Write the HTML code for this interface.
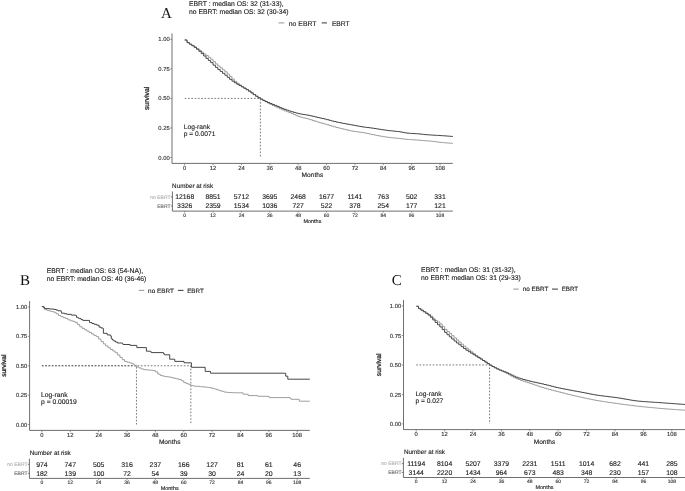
<!DOCTYPE html>
<html><head><meta charset="utf-8"><title>Kaplan-Meier survival curves</title>
<style>
html,body{margin:0;padding:0;background:#fff;}
body{width:685px;height:491px;overflow:hidden;font-family:"Liberation Sans", sans-serif;}
svg{display:block;filter:blur(0.3px);}
text{text-rendering:geometricPrecision;}
</style></head>
<body>
<svg width="685" height="491" viewBox="0 0 685 491">
<rect width="685" height="491" fill="#fff"/>
<text x="161.1" y="17.7" font-size="15.0" fill="#111" font-family='"Liberation Serif", serif'>A</text>
<text x="189.00" y="5.60" font-size="6.8" fill="#1a1a1a" stroke="#1a1a1a" stroke-width="0.12" text-anchor="start" font-family='"Liberation Sans", sans-serif' >EBRT : median OS: 32 (31-33),</text>
<text x="189.00" y="13.50" font-size="6.8" fill="#1a1a1a" stroke="#1a1a1a" stroke-width="0.12" text-anchor="start" font-family='"Liberation Sans", sans-serif' >no EBRT: median OS: 32 (30-34)</text>
<line x1="278.5" y1="22.9" x2="284.3" y2="22.9" stroke="#9e9e9e" stroke-width="1.1"/>
<line x1="321.7" y1="22.9" x2="327.0" y2="22.9" stroke="#474747" stroke-width="1.1"/>
<text x="288.80" y="25.60" font-size="6.85" fill="#1a1a1a" stroke="#1a1a1a" stroke-width="0.12" text-anchor="start" font-family='"Liberation Sans", sans-serif' textLength="27.7" lengthAdjust="spacingAndGlyphs">no EBRT</text>
<text x="331.90" y="25.60" font-size="6.85" fill="#1a1a1a" stroke="#1a1a1a" stroke-width="0.12" text-anchor="start" font-family='"Liberation Sans", sans-serif' textLength="17.8" lengthAdjust="spacingAndGlyphs">EBRT</text>
<path d="M172.0,33.4V163.4H452.8" fill="none" stroke="#555555" stroke-width="0.85"/>
<line x1="170.20" y1="157.50" x2="172.0" y2="157.50" stroke="#6a6a6a" stroke-width="0.7"/>
<text x="169.70" y="159.59" font-size="5.85" fill="#2e2e2e" stroke="#2e2e2e" stroke-width="0.12" text-anchor="end" font-family='"Liberation Sans", sans-serif' >0.00</text>
<line x1="170.20" y1="127.95" x2="172.0" y2="127.95" stroke="#6a6a6a" stroke-width="0.7"/>
<text x="169.70" y="130.04" font-size="5.85" fill="#2e2e2e" stroke="#2e2e2e" stroke-width="0.12" text-anchor="end" font-family='"Liberation Sans", sans-serif' >0.25</text>
<line x1="170.20" y1="98.40" x2="172.0" y2="98.40" stroke="#6a6a6a" stroke-width="0.7"/>
<text x="169.70" y="100.49" font-size="5.85" fill="#2e2e2e" stroke="#2e2e2e" stroke-width="0.12" text-anchor="end" font-family='"Liberation Sans", sans-serif' >0.50</text>
<line x1="170.20" y1="68.85" x2="172.0" y2="68.85" stroke="#6a6a6a" stroke-width="0.7"/>
<text x="169.70" y="70.94" font-size="5.85" fill="#2e2e2e" stroke="#2e2e2e" stroke-width="0.12" text-anchor="end" font-family='"Liberation Sans", sans-serif' >0.75</text>
<line x1="170.20" y1="39.30" x2="172.0" y2="39.30" stroke="#6a6a6a" stroke-width="0.7"/>
<text x="169.70" y="41.39" font-size="5.85" fill="#2e2e2e" stroke="#2e2e2e" stroke-width="0.12" text-anchor="end" font-family='"Liberation Sans", sans-serif' >1.00</text>
<line x1="184.70" y1="163.4" x2="184.70" y2="165.20" stroke="#6a6a6a" stroke-width="0.7"/>
<text x="184.70" y="169.69" font-size="5.85" fill="#2e2e2e" stroke="#2e2e2e" stroke-width="0.12" text-anchor="middle" font-family='"Liberation Sans", sans-serif' >0</text>
<line x1="213.07" y1="163.4" x2="213.07" y2="165.20" stroke="#6a6a6a" stroke-width="0.7"/>
<text x="213.07" y="169.69" font-size="5.85" fill="#2e2e2e" stroke="#2e2e2e" stroke-width="0.12" text-anchor="middle" font-family='"Liberation Sans", sans-serif' >12</text>
<line x1="241.44" y1="163.4" x2="241.44" y2="165.20" stroke="#6a6a6a" stroke-width="0.7"/>
<text x="241.44" y="169.69" font-size="5.85" fill="#2e2e2e" stroke="#2e2e2e" stroke-width="0.12" text-anchor="middle" font-family='"Liberation Sans", sans-serif' >24</text>
<line x1="269.80" y1="163.4" x2="269.80" y2="165.20" stroke="#6a6a6a" stroke-width="0.7"/>
<text x="269.80" y="169.69" font-size="5.85" fill="#2e2e2e" stroke="#2e2e2e" stroke-width="0.12" text-anchor="middle" font-family='"Liberation Sans", sans-serif' >36</text>
<line x1="298.17" y1="163.4" x2="298.17" y2="165.20" stroke="#6a6a6a" stroke-width="0.7"/>
<text x="298.17" y="169.69" font-size="5.85" fill="#2e2e2e" stroke="#2e2e2e" stroke-width="0.12" text-anchor="middle" font-family='"Liberation Sans", sans-serif' >48</text>
<line x1="326.54" y1="163.4" x2="326.54" y2="165.20" stroke="#6a6a6a" stroke-width="0.7"/>
<text x="326.54" y="169.69" font-size="5.85" fill="#2e2e2e" stroke="#2e2e2e" stroke-width="0.12" text-anchor="middle" font-family='"Liberation Sans", sans-serif' >60</text>
<line x1="354.91" y1="163.4" x2="354.91" y2="165.20" stroke="#6a6a6a" stroke-width="0.7"/>
<text x="354.91" y="169.69" font-size="5.85" fill="#2e2e2e" stroke="#2e2e2e" stroke-width="0.12" text-anchor="middle" font-family='"Liberation Sans", sans-serif' >72</text>
<line x1="383.28" y1="163.4" x2="383.28" y2="165.20" stroke="#6a6a6a" stroke-width="0.7"/>
<text x="383.28" y="169.69" font-size="5.85" fill="#2e2e2e" stroke="#2e2e2e" stroke-width="0.12" text-anchor="middle" font-family='"Liberation Sans", sans-serif' >84</text>
<line x1="411.64" y1="163.4" x2="411.64" y2="165.20" stroke="#6a6a6a" stroke-width="0.7"/>
<text x="411.64" y="169.69" font-size="5.85" fill="#2e2e2e" stroke="#2e2e2e" stroke-width="0.12" text-anchor="middle" font-family='"Liberation Sans", sans-serif' >96</text>
<line x1="440.01" y1="163.4" x2="440.01" y2="165.20" stroke="#6a6a6a" stroke-width="0.7"/>
<text x="440.01" y="169.69" font-size="5.85" fill="#2e2e2e" stroke="#2e2e2e" stroke-width="0.12" text-anchor="middle" font-family='"Liberation Sans", sans-serif' >108</text>
<text x="312.40" y="176.86" font-size="6.6" fill="#1a1a1a" stroke="#1a1a1a" stroke-width="0.12" text-anchor="middle" font-family='"Liberation Sans", sans-serif' >Months</text>
<text x="0" y="0" font-size="6.9" fill="#1a1a1a" stroke="#1a1a1a" stroke-width="0.25" text-anchor="middle" font-family='"Liberation Sans", sans-serif' transform="translate(148.6,98.4) rotate(-90)">survival</text>
<path d="M184.70,98.40H260.35V157.50" fill="none" stroke="#5a5a5a" stroke-width="0.8" stroke-dasharray="1.7,1.6"/>
<text x="183.80" y="129.00" font-size="6.65" fill="#1a1a1a" stroke="#1a1a1a" stroke-width="0.12" text-anchor="start" font-family='"Liberation Sans", sans-serif' >Log-rank</text>
<text x="183.80" y="136.20" font-size="6.65" fill="#1a1a1a" stroke="#1a1a1a" stroke-width="0.12" text-anchor="start" font-family='"Liberation Sans", sans-serif' >p = 0.0071</text>
<path d="M184.60,40.00H187.06V42.64H189.43V44.18H191.79V45.54H194.16V46.95H196.52V48.58H198.88V50.30H201.25V52.11H203.61V53.93H205.98V55.55H208.34V57.30H210.70V59.27H213.07V61.64H215.43V63.90H217.80V65.97H220.16V67.91H222.52V69.77H224.89V71.82H227.25V74.06H229.62V76.43H231.98V79.04H234.34V81.38H236.71V83.32H239.07V85.04H241.44V86.56H243.80V88.00H246.16V89.45H248.53V90.93H250.89V92.65H253.26V94.51H255.62V96.19H257.98V97.75H260.35V99.19H262.71V100.53H265.08V101.82H267.44V103.08H269.80V104.30H272.17V105.47H274.53V106.60H276.90V107.70H279.26V108.78H281.62V109.81H283.99V110.79H286.35V111.69H288.72V112.58H291.08V113.52H293.44V114.58H295.81V115.65H298.17V116.59H300.54V117.29H302.90V117.86H305.26V118.40H307.63V119.00H309.99V119.72H312.36V120.51H314.72V121.30H317.08V122.03H319.45V122.71H321.81V123.37H324.18V124.03H326.54V124.72H328.90V125.45H331.27V126.17H333.63V126.85H336.00V127.48H338.36V128.07H340.72V128.65H343.09V129.21H345.45V129.79H347.82V130.35H350.18V130.87H352.54V131.29H354.91V131.63H357.27V131.94H359.64V132.25H362.00V132.60H364.36V133.02H366.73V133.52H369.09V134.03H371.46V134.53H373.82V135.00H376.18V135.48H378.55V135.92H380.91V136.33H383.28V136.72H385.64V137.07H388.00V137.40H390.37V137.68H392.73V137.92H395.10V138.15H397.46V138.38H399.82V138.66H402.19V138.95H404.55V139.22H406.92V139.44H409.28V139.60H411.64V139.73H414.01V139.86H416.37V140.02H418.74V140.24H421.10V140.48H423.46V140.70H425.83V140.87H428.19V141.01H430.56V141.19H432.92V141.46H435.28V141.82H437.65V142.16H440.01V142.42H442.38V142.65H444.74V142.86H447.10V143.03H449.47V143.18H451.83V143.30H452.80" fill="none" stroke="#9e9e9e" stroke-width="1.0" stroke-linejoin="miter"/>
<path d="M184.60,40.00H187.06V42.59H189.43V44.21H191.79V45.74H194.16V47.38H196.52V49.24H198.88V51.28H201.25V53.56H203.61V55.99H205.98V58.37H208.34V60.55H210.70V62.62H213.07V65.13H215.43V67.42H217.80V69.47H220.16V71.42H222.52V73.29H224.89V75.28H227.25V77.38H229.62V79.34H231.98V81.15H234.34V82.78H236.71V84.18H239.07V85.53H241.44V86.91H243.80V88.31H246.16V89.75H248.53V91.24H250.89V92.90H253.26V94.64H255.62V96.22H257.98V97.69H260.35V99.05H262.71V100.30H265.08V101.46H267.44V102.53H269.80V103.55H272.17V104.49H274.53V105.42H276.90V106.40H279.26V107.43H281.62V108.45H283.99V109.36H286.35V110.21H288.72V111.00H291.08V111.73H293.44V112.43H295.81V113.08H298.17V113.66H300.54V114.13H302.90V114.52H305.26V114.88H307.63V115.30H309.99V115.80H312.36V116.36H314.72V116.93H317.08V117.47H319.45V118.00H321.81V118.53H324.18V119.07H326.54V119.66H328.90V120.31H331.27V120.96H333.63V121.56H336.00V122.08H338.36V122.57H340.72V123.03H343.09V123.49H345.45V123.93H347.82V124.36H350.18V124.78H352.54V125.21H354.91V125.65H357.27V126.09H359.64V126.52H362.00V126.91H364.36V127.24H366.73V127.53H369.09V127.81H371.46V128.12H373.82V128.48H376.18V128.87H378.55V129.26H380.91V129.62H383.28V129.96H385.64V130.30H388.00V130.60H390.37V130.87H392.73V131.09H395.10V131.32H397.46V131.58H399.82V131.95H402.19V132.42H404.55V132.85H406.92V133.15H409.28V133.33H411.64V133.47H414.01V133.61H416.37V133.76H418.74V133.98H421.10V134.24H423.46V134.50H425.83V134.72H428.19V134.89H430.56V135.04H432.92V135.18H435.28V135.32H437.65V135.45H440.01V135.59H442.38V135.75H444.74V135.92H447.10V136.11H449.47V136.31H451.83V136.50H452.80" fill="none" stroke="#474747" stroke-width="1.0" stroke-linejoin="miter"/>
<text x="172.10" y="187.60" font-size="6.3" fill="#1a1a1a" stroke="#1a1a1a" stroke-width="0.12" text-anchor="start" font-family='"Liberation Sans", sans-serif' >Number at risk</text>
<path d="M172.4,191.4V211.1H452.8" fill="none" stroke="#555555" stroke-width="0.85"/>
<text x="184.70" y="199.45" font-size="6.85" fill="#1a1a1a" stroke="#1a1a1a" stroke-width="0.12" text-anchor="middle" font-family='"Liberation Sans", sans-serif' >12168</text>
<text x="213.07" y="199.45" font-size="6.85" fill="#1a1a1a" stroke="#1a1a1a" stroke-width="0.12" text-anchor="middle" font-family='"Liberation Sans", sans-serif' >8851</text>
<text x="241.44" y="199.45" font-size="6.85" fill="#1a1a1a" stroke="#1a1a1a" stroke-width="0.12" text-anchor="middle" font-family='"Liberation Sans", sans-serif' >5712</text>
<text x="269.80" y="199.45" font-size="6.85" fill="#1a1a1a" stroke="#1a1a1a" stroke-width="0.12" text-anchor="middle" font-family='"Liberation Sans", sans-serif' >3695</text>
<text x="298.17" y="199.45" font-size="6.85" fill="#1a1a1a" stroke="#1a1a1a" stroke-width="0.12" text-anchor="middle" font-family='"Liberation Sans", sans-serif' >2468</text>
<text x="326.54" y="199.45" font-size="6.85" fill="#1a1a1a" stroke="#1a1a1a" stroke-width="0.12" text-anchor="middle" font-family='"Liberation Sans", sans-serif' >1677</text>
<text x="354.91" y="199.45" font-size="6.85" fill="#1a1a1a" stroke="#1a1a1a" stroke-width="0.12" text-anchor="middle" font-family='"Liberation Sans", sans-serif' >1141</text>
<text x="383.28" y="199.45" font-size="6.85" fill="#1a1a1a" stroke="#1a1a1a" stroke-width="0.12" text-anchor="middle" font-family='"Liberation Sans", sans-serif' >763</text>
<text x="411.64" y="199.45" font-size="6.85" fill="#1a1a1a" stroke="#1a1a1a" stroke-width="0.12" text-anchor="middle" font-family='"Liberation Sans", sans-serif' >502</text>
<text x="440.01" y="199.45" font-size="6.85" fill="#1a1a1a" stroke="#1a1a1a" stroke-width="0.12" text-anchor="middle" font-family='"Liberation Sans", sans-serif' >331</text>
<line x1="170.8" y1="197.0" x2="172.4" y2="197.0" stroke="#555555" stroke-width="0.7"/>
<text x="184.70" y="208.45" font-size="6.85" fill="#1a1a1a" stroke="#1a1a1a" stroke-width="0.12" text-anchor="middle" font-family='"Liberation Sans", sans-serif' >3326</text>
<text x="213.07" y="208.45" font-size="6.85" fill="#1a1a1a" stroke="#1a1a1a" stroke-width="0.12" text-anchor="middle" font-family='"Liberation Sans", sans-serif' >2359</text>
<text x="241.44" y="208.45" font-size="6.85" fill="#1a1a1a" stroke="#1a1a1a" stroke-width="0.12" text-anchor="middle" font-family='"Liberation Sans", sans-serif' >1534</text>
<text x="269.80" y="208.45" font-size="6.85" fill="#1a1a1a" stroke="#1a1a1a" stroke-width="0.12" text-anchor="middle" font-family='"Liberation Sans", sans-serif' >1036</text>
<text x="298.17" y="208.45" font-size="6.85" fill="#1a1a1a" stroke="#1a1a1a" stroke-width="0.12" text-anchor="middle" font-family='"Liberation Sans", sans-serif' >727</text>
<text x="326.54" y="208.45" font-size="6.85" fill="#1a1a1a" stroke="#1a1a1a" stroke-width="0.12" text-anchor="middle" font-family='"Liberation Sans", sans-serif' >522</text>
<text x="354.91" y="208.45" font-size="6.85" fill="#1a1a1a" stroke="#1a1a1a" stroke-width="0.12" text-anchor="middle" font-family='"Liberation Sans", sans-serif' >378</text>
<text x="383.28" y="208.45" font-size="6.85" fill="#1a1a1a" stroke="#1a1a1a" stroke-width="0.12" text-anchor="middle" font-family='"Liberation Sans", sans-serif' >254</text>
<text x="411.64" y="208.45" font-size="6.85" fill="#1a1a1a" stroke="#1a1a1a" stroke-width="0.12" text-anchor="middle" font-family='"Liberation Sans", sans-serif' >177</text>
<text x="440.01" y="208.45" font-size="6.85" fill="#1a1a1a" stroke="#1a1a1a" stroke-width="0.12" text-anchor="middle" font-family='"Liberation Sans", sans-serif' >121</text>
<line x1="170.8" y1="206.0" x2="172.4" y2="206.0" stroke="#555555" stroke-width="0.7"/>
<text x="170.50" y="198.79" font-size="5.0" fill="#b0b0b0" stroke="#b0b0b0" stroke-width="0.12" text-anchor="end" font-family='"Liberation Sans", sans-serif' >no EBRT</text>
<text x="170.50" y="207.79" font-size="5.0" fill="#6a6a6a" stroke="#6a6a6a" stroke-width="0.12" text-anchor="end" font-family='"Liberation Sans", sans-serif' >EBRT</text>
<line x1="184.70" y1="211.1" x2="184.70" y2="212.60" stroke="#555555" stroke-width="0.6"/>
<text x="184.70" y="216.89" font-size="5.0" fill="#2e2e2e" stroke="#2e2e2e" stroke-width="0.12" text-anchor="middle" font-family='"Liberation Sans", sans-serif' >0</text>
<line x1="213.07" y1="211.1" x2="213.07" y2="212.60" stroke="#555555" stroke-width="0.6"/>
<text x="213.07" y="216.89" font-size="5.0" fill="#2e2e2e" stroke="#2e2e2e" stroke-width="0.12" text-anchor="middle" font-family='"Liberation Sans", sans-serif' >12</text>
<line x1="241.44" y1="211.1" x2="241.44" y2="212.60" stroke="#555555" stroke-width="0.6"/>
<text x="241.44" y="216.89" font-size="5.0" fill="#2e2e2e" stroke="#2e2e2e" stroke-width="0.12" text-anchor="middle" font-family='"Liberation Sans", sans-serif' >24</text>
<line x1="269.80" y1="211.1" x2="269.80" y2="212.60" stroke="#555555" stroke-width="0.6"/>
<text x="269.80" y="216.89" font-size="5.0" fill="#2e2e2e" stroke="#2e2e2e" stroke-width="0.12" text-anchor="middle" font-family='"Liberation Sans", sans-serif' >36</text>
<line x1="298.17" y1="211.1" x2="298.17" y2="212.60" stroke="#555555" stroke-width="0.6"/>
<text x="298.17" y="216.89" font-size="5.0" fill="#2e2e2e" stroke="#2e2e2e" stroke-width="0.12" text-anchor="middle" font-family='"Liberation Sans", sans-serif' >48</text>
<line x1="326.54" y1="211.1" x2="326.54" y2="212.60" stroke="#555555" stroke-width="0.6"/>
<text x="326.54" y="216.89" font-size="5.0" fill="#2e2e2e" stroke="#2e2e2e" stroke-width="0.12" text-anchor="middle" font-family='"Liberation Sans", sans-serif' >60</text>
<line x1="354.91" y1="211.1" x2="354.91" y2="212.60" stroke="#555555" stroke-width="0.6"/>
<text x="354.91" y="216.89" font-size="5.0" fill="#2e2e2e" stroke="#2e2e2e" stroke-width="0.12" text-anchor="middle" font-family='"Liberation Sans", sans-serif' >72</text>
<line x1="383.28" y1="211.1" x2="383.28" y2="212.60" stroke="#555555" stroke-width="0.6"/>
<text x="383.28" y="216.89" font-size="5.0" fill="#2e2e2e" stroke="#2e2e2e" stroke-width="0.12" text-anchor="middle" font-family='"Liberation Sans", sans-serif' >84</text>
<line x1="411.64" y1="211.1" x2="411.64" y2="212.60" stroke="#555555" stroke-width="0.6"/>
<text x="411.64" y="216.89" font-size="5.0" fill="#2e2e2e" stroke="#2e2e2e" stroke-width="0.12" text-anchor="middle" font-family='"Liberation Sans", sans-serif' >96</text>
<line x1="440.01" y1="211.1" x2="440.01" y2="212.60" stroke="#555555" stroke-width="0.6"/>
<text x="440.01" y="216.89" font-size="5.0" fill="#2e2e2e" stroke="#2e2e2e" stroke-width="0.12" text-anchor="middle" font-family='"Liberation Sans", sans-serif' >108</text>
<text x="312.40" y="222.97" font-size="5.5" fill="#1a1a1a" stroke="#1a1a1a" stroke-width="0.12" text-anchor="middle" font-family='"Liberation Sans", sans-serif' >Months</text>
<text x="20.0" y="285.3" font-size="15.0" fill="#111" font-family='"Liberation Serif", serif'>B</text>
<text x="46.70" y="272.90" font-size="6.8" fill="#1a1a1a" stroke="#1a1a1a" stroke-width="0.12" text-anchor="start" font-family='"Liberation Sans", sans-serif' >EBRT : median OS: 63 (54-NA),</text>
<text x="46.70" y="280.90" font-size="6.8" fill="#1a1a1a" stroke="#1a1a1a" stroke-width="0.12" text-anchor="start" font-family='"Liberation Sans", sans-serif' >no EBRT: median OS: 40 (36-46)</text>
<line x1="138.8" y1="290.4" x2="144.3" y2="290.4" stroke="#9e9e9e" stroke-width="1.1"/>
<line x1="177.9" y1="290.4" x2="183.5" y2="290.4" stroke="#474747" stroke-width="1.1"/>
<text x="148.10" y="292.60" font-size="6.35" fill="#1a1a1a" stroke="#1a1a1a" stroke-width="0.12" text-anchor="start" font-family='"Liberation Sans", sans-serif' textLength="25.7" lengthAdjust="spacingAndGlyphs">no EBRT</text>
<text x="187.20" y="292.60" font-size="6.35" fill="#1a1a1a" stroke="#1a1a1a" stroke-width="0.12" text-anchor="start" font-family='"Liberation Sans", sans-serif' textLength="16.6" lengthAdjust="spacingAndGlyphs">EBRT</text>
<path d="M29.6,301.0V430.4H309.8" fill="none" stroke="#555555" stroke-width="0.85"/>
<line x1="27.80" y1="424.50" x2="29.6" y2="424.50" stroke="#6a6a6a" stroke-width="0.7"/>
<text x="27.30" y="426.59" font-size="5.85" fill="#2e2e2e" stroke="#2e2e2e" stroke-width="0.12" text-anchor="end" font-family='"Liberation Sans", sans-serif' >0.00</text>
<line x1="27.80" y1="395.12" x2="29.6" y2="395.12" stroke="#6a6a6a" stroke-width="0.7"/>
<text x="27.30" y="397.22" font-size="5.85" fill="#2e2e2e" stroke="#2e2e2e" stroke-width="0.12" text-anchor="end" font-family='"Liberation Sans", sans-serif' >0.25</text>
<line x1="27.80" y1="365.75" x2="29.6" y2="365.75" stroke="#6a6a6a" stroke-width="0.7"/>
<text x="27.30" y="367.84" font-size="5.85" fill="#2e2e2e" stroke="#2e2e2e" stroke-width="0.12" text-anchor="end" font-family='"Liberation Sans", sans-serif' >0.50</text>
<line x1="27.80" y1="336.38" x2="29.6" y2="336.38" stroke="#6a6a6a" stroke-width="0.7"/>
<text x="27.30" y="338.47" font-size="5.85" fill="#2e2e2e" stroke="#2e2e2e" stroke-width="0.12" text-anchor="end" font-family='"Liberation Sans", sans-serif' >0.75</text>
<line x1="27.80" y1="307.00" x2="29.6" y2="307.00" stroke="#6a6a6a" stroke-width="0.7"/>
<text x="27.30" y="309.09" font-size="5.85" fill="#2e2e2e" stroke="#2e2e2e" stroke-width="0.12" text-anchor="end" font-family='"Liberation Sans", sans-serif' >1.00</text>
<line x1="41.90" y1="430.4" x2="41.90" y2="432.20" stroke="#6a6a6a" stroke-width="0.7"/>
<text x="41.90" y="437.19" font-size="5.85" fill="#2e2e2e" stroke="#2e2e2e" stroke-width="0.12" text-anchor="middle" font-family='"Liberation Sans", sans-serif' >0</text>
<line x1="70.27" y1="430.4" x2="70.27" y2="432.20" stroke="#6a6a6a" stroke-width="0.7"/>
<text x="70.27" y="437.19" font-size="5.85" fill="#2e2e2e" stroke="#2e2e2e" stroke-width="0.12" text-anchor="middle" font-family='"Liberation Sans", sans-serif' >12</text>
<line x1="98.64" y1="430.4" x2="98.64" y2="432.20" stroke="#6a6a6a" stroke-width="0.7"/>
<text x="98.64" y="437.19" font-size="5.85" fill="#2e2e2e" stroke="#2e2e2e" stroke-width="0.12" text-anchor="middle" font-family='"Liberation Sans", sans-serif' >24</text>
<line x1="127.00" y1="430.4" x2="127.00" y2="432.20" stroke="#6a6a6a" stroke-width="0.7"/>
<text x="127.00" y="437.19" font-size="5.85" fill="#2e2e2e" stroke="#2e2e2e" stroke-width="0.12" text-anchor="middle" font-family='"Liberation Sans", sans-serif' >36</text>
<line x1="155.37" y1="430.4" x2="155.37" y2="432.20" stroke="#6a6a6a" stroke-width="0.7"/>
<text x="155.37" y="437.19" font-size="5.85" fill="#2e2e2e" stroke="#2e2e2e" stroke-width="0.12" text-anchor="middle" font-family='"Liberation Sans", sans-serif' >48</text>
<line x1="183.74" y1="430.4" x2="183.74" y2="432.20" stroke="#6a6a6a" stroke-width="0.7"/>
<text x="183.74" y="437.19" font-size="5.85" fill="#2e2e2e" stroke="#2e2e2e" stroke-width="0.12" text-anchor="middle" font-family='"Liberation Sans", sans-serif' >60</text>
<line x1="212.11" y1="430.4" x2="212.11" y2="432.20" stroke="#6a6a6a" stroke-width="0.7"/>
<text x="212.11" y="437.19" font-size="5.85" fill="#2e2e2e" stroke="#2e2e2e" stroke-width="0.12" text-anchor="middle" font-family='"Liberation Sans", sans-serif' >72</text>
<line x1="240.48" y1="430.4" x2="240.48" y2="432.20" stroke="#6a6a6a" stroke-width="0.7"/>
<text x="240.48" y="437.19" font-size="5.85" fill="#2e2e2e" stroke="#2e2e2e" stroke-width="0.12" text-anchor="middle" font-family='"Liberation Sans", sans-serif' >84</text>
<line x1="268.84" y1="430.4" x2="268.84" y2="432.20" stroke="#6a6a6a" stroke-width="0.7"/>
<text x="268.84" y="437.19" font-size="5.85" fill="#2e2e2e" stroke="#2e2e2e" stroke-width="0.12" text-anchor="middle" font-family='"Liberation Sans", sans-serif' >96</text>
<line x1="297.21" y1="430.4" x2="297.21" y2="432.20" stroke="#6a6a6a" stroke-width="0.7"/>
<text x="297.21" y="437.19" font-size="5.85" fill="#2e2e2e" stroke="#2e2e2e" stroke-width="0.12" text-anchor="middle" font-family='"Liberation Sans", sans-serif' >108</text>
<text x="169.70" y="444.36" font-size="6.6" fill="#1a1a1a" stroke="#1a1a1a" stroke-width="0.12" text-anchor="middle" font-family='"Liberation Sans", sans-serif' >Months</text>
<text x="0" y="0" font-size="6.6" fill="#1a1a1a" stroke="#1a1a1a" stroke-width="0.25" text-anchor="middle" font-family='"Liberation Sans", sans-serif' transform="translate(6.0,365.7) rotate(-90)">survival</text>
<path d="M41.90,365.75H136.46V424.50" fill="none" stroke="#5a5a5a" stroke-width="0.8" stroke-dasharray="1.7,1.6"/>
<path d="M41.90,365.75H190.83V424.50" fill="none" stroke="#5a5a5a" stroke-width="0.8" stroke-dasharray="1.7,1.6"/>
<text x="41.00" y="396.60" font-size="6.75" fill="#1a1a1a" stroke="#1a1a1a" stroke-width="0.12" text-anchor="start" font-family='"Liberation Sans", sans-serif' >Log-rank</text>
<text x="41.00" y="403.80" font-size="6.75" fill="#1a1a1a" stroke="#1a1a1a" stroke-width="0.12" text-anchor="start" font-family='"Liberation Sans", sans-serif' >p = 0.00019</text>
<path d="M41.90,306.60H44.26V309.21H46.63V310.29H48.99V311.02H51.36V311.59H53.72V312.27H56.08V313.74H58.45V315.47H60.81V316.68H63.18V317.67H65.54V318.52H67.90V319.76H70.27V320.76H72.63V321.39H75.00V322.41H77.36V324.58H79.72V326.71H82.09V328.34H84.45V329.67H86.82V331.10H89.18V332.55H91.54V334.00H93.91V335.41H96.27V336.62H98.64V339.08H101.00V341.59H103.36V343.91H105.73V345.97H108.09V347.84H110.46V349.52H112.82V350.99H115.18V352.67H117.55V355.01H119.91V357.44H122.28V359.68H124.64V361.40H127.00V362.17H129.37V362.85H131.73V363.80H134.10V365.28H136.46V366.87H138.82V367.92H141.19V368.92H143.55V369.57H145.92V369.86H148.28V370.03H150.64V370.22H153.01V370.56H155.37V371.84H157.74V374.00H160.10V375.35H162.46V376.06H164.83V376.56H167.19V376.87H169.56V377.21H171.92V377.77H174.28V378.42H176.65V378.92H179.01V379.47H181.38V380.75H183.74V382.56H186.10V383.57H188.47V384.42H190.83V385.55H193.20V386.06H195.56V386.25H197.92V386.40H200.29V386.62H202.65V386.86H205.02V387.12H207.38V387.43H209.74V387.80H212.11V388.31H214.47V389.03H216.84V389.85H219.20V390.61H221.56V391.34H223.93V392.03H226.29V392.35H228.66V392.51H231.02V392.64H233.38V392.73H235.75V392.78H238.11V392.80H240.00H243.10V394.20H248.20V395.60H257.90V396.30H269.10V397.60H290.10V398.60H291.10V399.30H299.30V401.20H309.8" fill="none" stroke="#9e9e9e" stroke-width="1.0" stroke-linejoin="miter"/>
<path d="M41.90,306.60H43.50V307.60H44.60V308.60H49.40V309.00H53.80V309.50H56.50V310.20H58.10V310.80H61.20V311.60H61.60V313.20H64.50V313.80H66.90V314.30H71.30V315.10H75.70V315.60H76.50V317.30H78.00V318.00H79.20V318.60H81.00V319.50H82.70V320.40H89.50V322.60H92.00V323.50H94.10V324.30H96.70V325.20H99.10V327.20H101.00V328.00H103.10V328.80H103.40V333.30H107.20V334.90H110.30V335.90H111.30V338.90H112.50V340.00H113.80V341.00H115.50V342.00H117.40V343.00H122.50V343.50H123.00V344.50H130.10V345.40H136.80V347.60H146.40V351.20H150.50V351.60H151.20V352.60H163.50V353.80H164.60V354.80H169.70V359.20H174.80V361.40H184.00V362.80H191.40V367.30H205.20V371.40H210.50V373.20H285.70V376.20H287.80V379.20H309.80" fill="none" stroke="#474747" stroke-width="1.0" stroke-linejoin="miter"/>
<text x="29.80" y="455.00" font-size="6.3" fill="#1a1a1a" stroke="#1a1a1a" stroke-width="0.12" text-anchor="start" font-family='"Liberation Sans", sans-serif' >Number at risk</text>
<path d="M29.4,458.7V478.4H309.8" fill="none" stroke="#555555" stroke-width="0.85"/>
<text x="41.90" y="466.77" font-size="6.9" fill="#1a1a1a" stroke="#1a1a1a" stroke-width="0.12" text-anchor="middle" font-family='"Liberation Sans", sans-serif' >974</text>
<text x="70.27" y="466.77" font-size="6.9" fill="#1a1a1a" stroke="#1a1a1a" stroke-width="0.12" text-anchor="middle" font-family='"Liberation Sans", sans-serif' >747</text>
<text x="98.64" y="466.77" font-size="6.9" fill="#1a1a1a" stroke="#1a1a1a" stroke-width="0.12" text-anchor="middle" font-family='"Liberation Sans", sans-serif' >505</text>
<text x="127.00" y="466.77" font-size="6.9" fill="#1a1a1a" stroke="#1a1a1a" stroke-width="0.12" text-anchor="middle" font-family='"Liberation Sans", sans-serif' >316</text>
<text x="155.37" y="466.77" font-size="6.9" fill="#1a1a1a" stroke="#1a1a1a" stroke-width="0.12" text-anchor="middle" font-family='"Liberation Sans", sans-serif' >237</text>
<text x="183.74" y="466.77" font-size="6.9" fill="#1a1a1a" stroke="#1a1a1a" stroke-width="0.12" text-anchor="middle" font-family='"Liberation Sans", sans-serif' >166</text>
<text x="212.11" y="466.77" font-size="6.9" fill="#1a1a1a" stroke="#1a1a1a" stroke-width="0.12" text-anchor="middle" font-family='"Liberation Sans", sans-serif' >127</text>
<text x="240.48" y="466.77" font-size="6.9" fill="#1a1a1a" stroke="#1a1a1a" stroke-width="0.12" text-anchor="middle" font-family='"Liberation Sans", sans-serif' >81</text>
<text x="268.84" y="466.77" font-size="6.9" fill="#1a1a1a" stroke="#1a1a1a" stroke-width="0.12" text-anchor="middle" font-family='"Liberation Sans", sans-serif' >61</text>
<text x="297.21" y="466.77" font-size="6.9" fill="#1a1a1a" stroke="#1a1a1a" stroke-width="0.12" text-anchor="middle" font-family='"Liberation Sans", sans-serif' >46</text>
<line x1="27.799999999999997" y1="464.3" x2="29.4" y2="464.3" stroke="#555555" stroke-width="0.7"/>
<text x="41.90" y="475.87" font-size="6.9" fill="#1a1a1a" stroke="#1a1a1a" stroke-width="0.12" text-anchor="middle" font-family='"Liberation Sans", sans-serif' >182</text>
<text x="70.27" y="475.87" font-size="6.9" fill="#1a1a1a" stroke="#1a1a1a" stroke-width="0.12" text-anchor="middle" font-family='"Liberation Sans", sans-serif' >139</text>
<text x="98.64" y="475.87" font-size="6.9" fill="#1a1a1a" stroke="#1a1a1a" stroke-width="0.12" text-anchor="middle" font-family='"Liberation Sans", sans-serif' >100</text>
<text x="127.00" y="475.87" font-size="6.9" fill="#1a1a1a" stroke="#1a1a1a" stroke-width="0.12" text-anchor="middle" font-family='"Liberation Sans", sans-serif' >72</text>
<text x="155.37" y="475.87" font-size="6.9" fill="#1a1a1a" stroke="#1a1a1a" stroke-width="0.12" text-anchor="middle" font-family='"Liberation Sans", sans-serif' >54</text>
<text x="183.74" y="475.87" font-size="6.9" fill="#1a1a1a" stroke="#1a1a1a" stroke-width="0.12" text-anchor="middle" font-family='"Liberation Sans", sans-serif' >39</text>
<text x="212.11" y="475.87" font-size="6.9" fill="#1a1a1a" stroke="#1a1a1a" stroke-width="0.12" text-anchor="middle" font-family='"Liberation Sans", sans-serif' >30</text>
<text x="240.48" y="475.87" font-size="6.9" fill="#1a1a1a" stroke="#1a1a1a" stroke-width="0.12" text-anchor="middle" font-family='"Liberation Sans", sans-serif' >24</text>
<text x="268.84" y="475.87" font-size="6.9" fill="#1a1a1a" stroke="#1a1a1a" stroke-width="0.12" text-anchor="middle" font-family='"Liberation Sans", sans-serif' >20</text>
<text x="297.21" y="475.87" font-size="6.9" fill="#1a1a1a" stroke="#1a1a1a" stroke-width="0.12" text-anchor="middle" font-family='"Liberation Sans", sans-serif' >13</text>
<line x1="27.799999999999997" y1="473.4" x2="29.4" y2="473.4" stroke="#555555" stroke-width="0.7"/>
<text x="27.50" y="466.09" font-size="5.0" fill="#b0b0b0" stroke="#b0b0b0" stroke-width="0.12" text-anchor="end" font-family='"Liberation Sans", sans-serif' >no EBRT</text>
<text x="27.50" y="475.19" font-size="5.0" fill="#6a6a6a" stroke="#6a6a6a" stroke-width="0.12" text-anchor="end" font-family='"Liberation Sans", sans-serif' >EBRT</text>
<line x1="41.90" y1="478.4" x2="41.90" y2="479.90" stroke="#555555" stroke-width="0.6"/>
<text x="41.90" y="484.39" font-size="5.0" fill="#2e2e2e" stroke="#2e2e2e" stroke-width="0.12" text-anchor="middle" font-family='"Liberation Sans", sans-serif' >0</text>
<line x1="70.27" y1="478.4" x2="70.27" y2="479.90" stroke="#555555" stroke-width="0.6"/>
<text x="70.27" y="484.39" font-size="5.0" fill="#2e2e2e" stroke="#2e2e2e" stroke-width="0.12" text-anchor="middle" font-family='"Liberation Sans", sans-serif' >12</text>
<line x1="98.64" y1="478.4" x2="98.64" y2="479.90" stroke="#555555" stroke-width="0.6"/>
<text x="98.64" y="484.39" font-size="5.0" fill="#2e2e2e" stroke="#2e2e2e" stroke-width="0.12" text-anchor="middle" font-family='"Liberation Sans", sans-serif' >24</text>
<line x1="127.00" y1="478.4" x2="127.00" y2="479.90" stroke="#555555" stroke-width="0.6"/>
<text x="127.00" y="484.39" font-size="5.0" fill="#2e2e2e" stroke="#2e2e2e" stroke-width="0.12" text-anchor="middle" font-family='"Liberation Sans", sans-serif' >36</text>
<line x1="155.37" y1="478.4" x2="155.37" y2="479.90" stroke="#555555" stroke-width="0.6"/>
<text x="155.37" y="484.39" font-size="5.0" fill="#2e2e2e" stroke="#2e2e2e" stroke-width="0.12" text-anchor="middle" font-family='"Liberation Sans", sans-serif' >48</text>
<line x1="183.74" y1="478.4" x2="183.74" y2="479.90" stroke="#555555" stroke-width="0.6"/>
<text x="183.74" y="484.39" font-size="5.0" fill="#2e2e2e" stroke="#2e2e2e" stroke-width="0.12" text-anchor="middle" font-family='"Liberation Sans", sans-serif' >60</text>
<line x1="212.11" y1="478.4" x2="212.11" y2="479.90" stroke="#555555" stroke-width="0.6"/>
<text x="212.11" y="484.39" font-size="5.0" fill="#2e2e2e" stroke="#2e2e2e" stroke-width="0.12" text-anchor="middle" font-family='"Liberation Sans", sans-serif' >72</text>
<line x1="240.48" y1="478.4" x2="240.48" y2="479.90" stroke="#555555" stroke-width="0.6"/>
<text x="240.48" y="484.39" font-size="5.0" fill="#2e2e2e" stroke="#2e2e2e" stroke-width="0.12" text-anchor="middle" font-family='"Liberation Sans", sans-serif' >84</text>
<line x1="268.84" y1="478.4" x2="268.84" y2="479.90" stroke="#555555" stroke-width="0.6"/>
<text x="268.84" y="484.39" font-size="5.0" fill="#2e2e2e" stroke="#2e2e2e" stroke-width="0.12" text-anchor="middle" font-family='"Liberation Sans", sans-serif' >96</text>
<line x1="297.21" y1="478.4" x2="297.21" y2="479.90" stroke="#555555" stroke-width="0.6"/>
<text x="297.21" y="484.39" font-size="5.0" fill="#2e2e2e" stroke="#2e2e2e" stroke-width="0.12" text-anchor="middle" font-family='"Liberation Sans", sans-serif' >108</text>
<text x="169.70" y="489.67" font-size="5.5" fill="#1a1a1a" stroke="#1a1a1a" stroke-width="0.12" text-anchor="middle" font-family='"Liberation Sans", sans-serif' >Months</text>
<text x="391.7" y="284.7" font-size="15.0" fill="#111" font-family='"Liberation Serif", serif'>C</text>
<text x="421.10" y="272.00" font-size="6.8" fill="#1a1a1a" stroke="#1a1a1a" stroke-width="0.12" text-anchor="start" font-family='"Liberation Sans", sans-serif' >EBRT : median OS: 31 (31-32),</text>
<text x="421.10" y="280.00" font-size="6.8" fill="#1a1a1a" stroke="#1a1a1a" stroke-width="0.12" text-anchor="start" font-family='"Liberation Sans", sans-serif' >no EBRT: median OS: 31 (29-33)</text>
<line x1="513.3" y1="289.1" x2="518.8" y2="289.1" stroke="#9e9e9e" stroke-width="1.1"/>
<line x1="552.0" y1="289.1" x2="557.9" y2="289.1" stroke="#474747" stroke-width="1.1"/>
<text x="522.80" y="291.30" font-size="6.3" fill="#1a1a1a" stroke="#1a1a1a" stroke-width="0.12" text-anchor="start" font-family='"Liberation Sans", sans-serif' textLength="25.5" lengthAdjust="spacingAndGlyphs">no EBRT</text>
<text x="561.70" y="291.30" font-size="6.3" fill="#1a1a1a" stroke="#1a1a1a" stroke-width="0.12" text-anchor="start" font-family='"Liberation Sans", sans-serif' textLength="16.4" lengthAdjust="spacingAndGlyphs">EBRT</text>
<path d="M403.5,300.1V429.6H685.5" fill="none" stroke="#555555" stroke-width="0.85"/>
<line x1="401.70" y1="423.90" x2="403.5" y2="423.90" stroke="#6a6a6a" stroke-width="0.7"/>
<text x="401.20" y="425.99" font-size="5.85" fill="#2e2e2e" stroke="#2e2e2e" stroke-width="0.12" text-anchor="end" font-family='"Liberation Sans", sans-serif' >0.00</text>
<line x1="401.70" y1="394.42" x2="403.5" y2="394.42" stroke="#6a6a6a" stroke-width="0.7"/>
<text x="401.20" y="396.52" font-size="5.85" fill="#2e2e2e" stroke="#2e2e2e" stroke-width="0.12" text-anchor="end" font-family='"Liberation Sans", sans-serif' >0.25</text>
<line x1="401.70" y1="364.95" x2="403.5" y2="364.95" stroke="#6a6a6a" stroke-width="0.7"/>
<text x="401.20" y="367.04" font-size="5.85" fill="#2e2e2e" stroke="#2e2e2e" stroke-width="0.12" text-anchor="end" font-family='"Liberation Sans", sans-serif' >0.50</text>
<line x1="401.70" y1="335.47" x2="403.5" y2="335.47" stroke="#6a6a6a" stroke-width="0.7"/>
<text x="401.20" y="337.57" font-size="5.85" fill="#2e2e2e" stroke="#2e2e2e" stroke-width="0.12" text-anchor="end" font-family='"Liberation Sans", sans-serif' >0.75</text>
<line x1="401.70" y1="306.00" x2="403.5" y2="306.00" stroke="#6a6a6a" stroke-width="0.7"/>
<text x="401.20" y="308.09" font-size="5.85" fill="#2e2e2e" stroke="#2e2e2e" stroke-width="0.12" text-anchor="end" font-family='"Liberation Sans", sans-serif' >1.00</text>
<line x1="416.20" y1="429.6" x2="416.20" y2="431.40" stroke="#6a6a6a" stroke-width="0.7"/>
<text x="416.20" y="436.29" font-size="5.85" fill="#2e2e2e" stroke="#2e2e2e" stroke-width="0.12" text-anchor="middle" font-family='"Liberation Sans", sans-serif' >0</text>
<line x1="444.60" y1="429.6" x2="444.60" y2="431.40" stroke="#6a6a6a" stroke-width="0.7"/>
<text x="444.60" y="436.29" font-size="5.85" fill="#2e2e2e" stroke="#2e2e2e" stroke-width="0.12" text-anchor="middle" font-family='"Liberation Sans", sans-serif' >12</text>
<line x1="473.01" y1="429.6" x2="473.01" y2="431.40" stroke="#6a6a6a" stroke-width="0.7"/>
<text x="473.01" y="436.29" font-size="5.85" fill="#2e2e2e" stroke="#2e2e2e" stroke-width="0.12" text-anchor="middle" font-family='"Liberation Sans", sans-serif' >24</text>
<line x1="501.41" y1="429.6" x2="501.41" y2="431.40" stroke="#6a6a6a" stroke-width="0.7"/>
<text x="501.41" y="436.29" font-size="5.85" fill="#2e2e2e" stroke="#2e2e2e" stroke-width="0.12" text-anchor="middle" font-family='"Liberation Sans", sans-serif' >36</text>
<line x1="529.82" y1="429.6" x2="529.82" y2="431.40" stroke="#6a6a6a" stroke-width="0.7"/>
<text x="529.82" y="436.29" font-size="5.85" fill="#2e2e2e" stroke="#2e2e2e" stroke-width="0.12" text-anchor="middle" font-family='"Liberation Sans", sans-serif' >48</text>
<line x1="558.22" y1="429.6" x2="558.22" y2="431.40" stroke="#6a6a6a" stroke-width="0.7"/>
<text x="558.22" y="436.29" font-size="5.85" fill="#2e2e2e" stroke="#2e2e2e" stroke-width="0.12" text-anchor="middle" font-family='"Liberation Sans", sans-serif' >60</text>
<line x1="586.62" y1="429.6" x2="586.62" y2="431.40" stroke="#6a6a6a" stroke-width="0.7"/>
<text x="586.62" y="436.29" font-size="5.85" fill="#2e2e2e" stroke="#2e2e2e" stroke-width="0.12" text-anchor="middle" font-family='"Liberation Sans", sans-serif' >72</text>
<line x1="615.03" y1="429.6" x2="615.03" y2="431.40" stroke="#6a6a6a" stroke-width="0.7"/>
<text x="615.03" y="436.29" font-size="5.85" fill="#2e2e2e" stroke="#2e2e2e" stroke-width="0.12" text-anchor="middle" font-family='"Liberation Sans", sans-serif' >84</text>
<line x1="643.43" y1="429.6" x2="643.43" y2="431.40" stroke="#6a6a6a" stroke-width="0.7"/>
<text x="643.43" y="436.29" font-size="5.85" fill="#2e2e2e" stroke="#2e2e2e" stroke-width="0.12" text-anchor="middle" font-family='"Liberation Sans", sans-serif' >96</text>
<line x1="671.84" y1="429.6" x2="671.84" y2="431.40" stroke="#6a6a6a" stroke-width="0.7"/>
<text x="671.84" y="436.29" font-size="5.85" fill="#2e2e2e" stroke="#2e2e2e" stroke-width="0.12" text-anchor="middle" font-family='"Liberation Sans", sans-serif' >108</text>
<text x="544.50" y="443.66" font-size="6.6" fill="#1a1a1a" stroke="#1a1a1a" stroke-width="0.12" text-anchor="middle" font-family='"Liberation Sans", sans-serif' >Months</text>
<text x="0" y="0" font-size="6.7" fill="#1a1a1a" stroke="#1a1a1a" stroke-width="0.25" text-anchor="middle" font-family='"Liberation Sans", sans-serif' transform="translate(380.9,364.8) rotate(-90)">survival</text>
<path d="M416.20,364.95H489.58V423.90" fill="none" stroke="#5a5a5a" stroke-width="0.8" stroke-dasharray="1.7,1.6"/>
<text x="415.40" y="396.00" font-size="6.65" fill="#1a1a1a" stroke="#1a1a1a" stroke-width="0.12" text-anchor="start" font-family='"Liberation Sans", sans-serif' >Log-rank</text>
<text x="415.40" y="403.00" font-size="6.65" fill="#1a1a1a" stroke="#1a1a1a" stroke-width="0.12" text-anchor="start" font-family='"Liberation Sans", sans-serif' >p = 0.027</text>
<path d="M416.30,306.30H418.57V308.64H420.93V310.15H423.30V311.62H425.67V313.02H428.03V314.43H430.40V316.30H432.77V318.66H435.14V320.43H437.50V321.95H439.87V323.98H442.24V326.54H444.60V329.29H446.97V331.46H449.34V333.53H451.70V335.71H454.07V337.90H456.44V340.01H458.81V342.09H461.17V344.17H463.54V346.23H465.91V348.18H468.27V350.03H470.64V351.87H473.01V353.76H475.38V355.56H477.74V357.20H480.11V358.79H482.48V360.42H484.84V362.04H487.21V363.74H489.58V365.31H491.94V366.61H494.31V367.79H496.68V368.88H499.04V369.95H501.41V371.03H503.78V372.18H506.15V373.43H508.51V374.76H510.88V376.09H513.25V377.37H515.61V378.53H517.98V379.53H520.35V380.41H522.72V381.21H525.08V381.98H527.45V382.73H529.82V383.50H532.18V384.31H534.55V385.13H536.92V385.96H539.28V386.76H541.65V387.52H544.02V388.23H546.38V388.90H548.75V389.54H551.12V390.15H553.49V390.75H555.85V391.35H558.22V391.97H560.59V392.57H562.95V393.18H565.32V393.77H567.69V394.36H570.05V394.93H572.42V395.49H574.79V396.04H577.16V396.59H579.52V397.12H581.89V397.64H584.26V398.16H586.62V398.67H588.99V399.16H591.36V399.64H593.73V400.08H596.09V400.50H598.46V400.90H600.83V401.29H603.19V401.67H605.56V402.03H607.93V402.38H610.29V402.73H612.66V403.06H615.03V403.40H617.39V403.72H619.76V404.04H622.13V404.36H624.50V404.68H626.86V404.98H629.23V405.29H631.60V405.58H633.96V405.87H636.33V406.15H638.70V406.41H641.07V406.67H643.43V406.91H645.80V407.14H648.17V407.37H650.53V407.60H652.90V407.82H655.27V408.03H657.63V408.25H660.00V408.45H662.37V408.65H664.74V408.85H667.10V409.04H669.47V409.22H671.84V409.40H674.20V409.57H676.57V409.73H678.94V409.88H681.30V410.03H683.67V410.16H685.50" fill="none" stroke="#9e9e9e" stroke-width="1.0" stroke-linejoin="miter"/>
<path d="M416.30,306.30H418.57V308.63H420.93V310.20H423.30V311.78H425.67V313.39H428.03V315.09H430.40V317.25H432.77V319.92H435.14V322.44H437.50V324.74H439.87V326.94H442.24V329.60H444.60V332.40H446.97V334.69H449.34V336.83H451.70V338.97H454.07V341.03H456.44V342.94H458.81V344.77H461.17V346.65H463.54V348.56H465.91V350.23H468.27V351.69H470.64V353.16H473.01V354.65H475.38V356.12H477.74V357.55H480.11V359.00H482.48V360.51H484.84V362.06H487.21V363.63H489.58V365.11H491.94V366.47H494.31V367.77H496.68V368.98H499.04V370.06H501.41V370.96H503.78V371.79H506.15V372.79H508.51V373.91H510.88V375.08H513.25V376.20H515.61V377.22H517.98V378.06H520.35V378.81H522.72V379.49H525.08V380.13H527.45V380.74H529.82V381.33H532.18V381.89H534.55V382.42H536.92V382.92H539.28V383.43H541.65V383.94H544.02V384.49H546.38V385.08H548.75V385.69H551.12V386.31H553.49V386.91H555.85V387.47H558.22V387.99H560.59V388.48H562.95V388.95H565.32V389.40H567.69V389.85H570.05V390.30H572.42V390.74H574.79V391.17H577.16V391.60H579.52V392.03H581.89V392.46H584.26V392.92H586.62V393.41H588.99V393.90H591.36V394.37H593.73V394.79H596.09V395.15H598.46V395.49H600.83V395.81H603.19V396.11H605.56V396.40H607.93V396.68H610.29V396.97H612.66V397.27H615.03V397.59H617.39V397.93H619.76V398.31H622.13V398.71H624.50V399.13H626.86V399.56H629.23V399.97H631.60V400.36H633.96V400.70H636.33V401.00H638.70V401.23H641.07V401.44H643.43V401.62H645.80V401.79H648.17V401.95H650.53V402.10H652.90V402.25H655.27V402.40H657.63V402.57H660.00V402.74H662.37V402.91H664.74V403.08H667.10V403.25H669.47V403.42H671.84V403.59H674.20V403.77H676.57V403.94H678.94V404.11H681.30V404.28H683.67V404.45H685.50" fill="none" stroke="#474747" stroke-width="1.0" stroke-linejoin="miter"/>
<text x="404.00" y="454.00" font-size="6.3" fill="#1a1a1a" stroke="#1a1a1a" stroke-width="0.12" text-anchor="start" font-family='"Liberation Sans", sans-serif' >Number at risk</text>
<path d="M403.4,457.8V477.5H685.5" fill="none" stroke="#555555" stroke-width="0.85"/>
<text x="416.20" y="466.05" font-size="6.85" fill="#1a1a1a" stroke="#1a1a1a" stroke-width="0.12" text-anchor="middle" font-family='"Liberation Sans", sans-serif' >11194</text>
<text x="444.60" y="466.05" font-size="6.85" fill="#1a1a1a" stroke="#1a1a1a" stroke-width="0.12" text-anchor="middle" font-family='"Liberation Sans", sans-serif' >8104</text>
<text x="473.01" y="466.05" font-size="6.85" fill="#1a1a1a" stroke="#1a1a1a" stroke-width="0.12" text-anchor="middle" font-family='"Liberation Sans", sans-serif' >5207</text>
<text x="501.41" y="466.05" font-size="6.85" fill="#1a1a1a" stroke="#1a1a1a" stroke-width="0.12" text-anchor="middle" font-family='"Liberation Sans", sans-serif' >3379</text>
<text x="529.82" y="466.05" font-size="6.85" fill="#1a1a1a" stroke="#1a1a1a" stroke-width="0.12" text-anchor="middle" font-family='"Liberation Sans", sans-serif' >2231</text>
<text x="558.22" y="466.05" font-size="6.85" fill="#1a1a1a" stroke="#1a1a1a" stroke-width="0.12" text-anchor="middle" font-family='"Liberation Sans", sans-serif' >1511</text>
<text x="586.62" y="466.05" font-size="6.85" fill="#1a1a1a" stroke="#1a1a1a" stroke-width="0.12" text-anchor="middle" font-family='"Liberation Sans", sans-serif' >1014</text>
<text x="615.03" y="466.05" font-size="6.85" fill="#1a1a1a" stroke="#1a1a1a" stroke-width="0.12" text-anchor="middle" font-family='"Liberation Sans", sans-serif' >682</text>
<text x="643.43" y="466.05" font-size="6.85" fill="#1a1a1a" stroke="#1a1a1a" stroke-width="0.12" text-anchor="middle" font-family='"Liberation Sans", sans-serif' >441</text>
<text x="671.84" y="466.05" font-size="6.85" fill="#1a1a1a" stroke="#1a1a1a" stroke-width="0.12" text-anchor="middle" font-family='"Liberation Sans", sans-serif' >285</text>
<line x1="401.79999999999995" y1="463.6" x2="403.4" y2="463.6" stroke="#555555" stroke-width="0.7"/>
<text x="416.20" y="474.95" font-size="6.85" fill="#1a1a1a" stroke="#1a1a1a" stroke-width="0.12" text-anchor="middle" font-family='"Liberation Sans", sans-serif' >3144</text>
<text x="444.60" y="474.95" font-size="6.85" fill="#1a1a1a" stroke="#1a1a1a" stroke-width="0.12" text-anchor="middle" font-family='"Liberation Sans", sans-serif' >2220</text>
<text x="473.01" y="474.95" font-size="6.85" fill="#1a1a1a" stroke="#1a1a1a" stroke-width="0.12" text-anchor="middle" font-family='"Liberation Sans", sans-serif' >1434</text>
<text x="501.41" y="474.95" font-size="6.85" fill="#1a1a1a" stroke="#1a1a1a" stroke-width="0.12" text-anchor="middle" font-family='"Liberation Sans", sans-serif' >964</text>
<text x="529.82" y="474.95" font-size="6.85" fill="#1a1a1a" stroke="#1a1a1a" stroke-width="0.12" text-anchor="middle" font-family='"Liberation Sans", sans-serif' >673</text>
<text x="558.22" y="474.95" font-size="6.85" fill="#1a1a1a" stroke="#1a1a1a" stroke-width="0.12" text-anchor="middle" font-family='"Liberation Sans", sans-serif' >483</text>
<text x="586.62" y="474.95" font-size="6.85" fill="#1a1a1a" stroke="#1a1a1a" stroke-width="0.12" text-anchor="middle" font-family='"Liberation Sans", sans-serif' >348</text>
<text x="615.03" y="474.95" font-size="6.85" fill="#1a1a1a" stroke="#1a1a1a" stroke-width="0.12" text-anchor="middle" font-family='"Liberation Sans", sans-serif' >230</text>
<text x="643.43" y="474.95" font-size="6.85" fill="#1a1a1a" stroke="#1a1a1a" stroke-width="0.12" text-anchor="middle" font-family='"Liberation Sans", sans-serif' >157</text>
<text x="671.84" y="474.95" font-size="6.85" fill="#1a1a1a" stroke="#1a1a1a" stroke-width="0.12" text-anchor="middle" font-family='"Liberation Sans", sans-serif' >108</text>
<line x1="401.79999999999995" y1="472.5" x2="403.4" y2="472.5" stroke="#555555" stroke-width="0.7"/>
<text x="401.50" y="465.39" font-size="5.0" fill="#b0b0b0" stroke="#b0b0b0" stroke-width="0.12" text-anchor="end" font-family='"Liberation Sans", sans-serif' >no EBRT</text>
<text x="401.50" y="474.29" font-size="5.0" fill="#6a6a6a" stroke="#6a6a6a" stroke-width="0.12" text-anchor="end" font-family='"Liberation Sans", sans-serif' >EBRT</text>
<line x1="416.20" y1="477.5" x2="416.20" y2="479.00" stroke="#555555" stroke-width="0.6"/>
<text x="416.20" y="483.49" font-size="5.0" fill="#2e2e2e" stroke="#2e2e2e" stroke-width="0.12" text-anchor="middle" font-family='"Liberation Sans", sans-serif' >0</text>
<line x1="444.60" y1="477.5" x2="444.60" y2="479.00" stroke="#555555" stroke-width="0.6"/>
<text x="444.60" y="483.49" font-size="5.0" fill="#2e2e2e" stroke="#2e2e2e" stroke-width="0.12" text-anchor="middle" font-family='"Liberation Sans", sans-serif' >12</text>
<line x1="473.01" y1="477.5" x2="473.01" y2="479.00" stroke="#555555" stroke-width="0.6"/>
<text x="473.01" y="483.49" font-size="5.0" fill="#2e2e2e" stroke="#2e2e2e" stroke-width="0.12" text-anchor="middle" font-family='"Liberation Sans", sans-serif' >24</text>
<line x1="501.41" y1="477.5" x2="501.41" y2="479.00" stroke="#555555" stroke-width="0.6"/>
<text x="501.41" y="483.49" font-size="5.0" fill="#2e2e2e" stroke="#2e2e2e" stroke-width="0.12" text-anchor="middle" font-family='"Liberation Sans", sans-serif' >36</text>
<line x1="529.82" y1="477.5" x2="529.82" y2="479.00" stroke="#555555" stroke-width="0.6"/>
<text x="529.82" y="483.49" font-size="5.0" fill="#2e2e2e" stroke="#2e2e2e" stroke-width="0.12" text-anchor="middle" font-family='"Liberation Sans", sans-serif' >48</text>
<line x1="558.22" y1="477.5" x2="558.22" y2="479.00" stroke="#555555" stroke-width="0.6"/>
<text x="558.22" y="483.49" font-size="5.0" fill="#2e2e2e" stroke="#2e2e2e" stroke-width="0.12" text-anchor="middle" font-family='"Liberation Sans", sans-serif' >60</text>
<line x1="586.62" y1="477.5" x2="586.62" y2="479.00" stroke="#555555" stroke-width="0.6"/>
<text x="586.62" y="483.49" font-size="5.0" fill="#2e2e2e" stroke="#2e2e2e" stroke-width="0.12" text-anchor="middle" font-family='"Liberation Sans", sans-serif' >72</text>
<line x1="615.03" y1="477.5" x2="615.03" y2="479.00" stroke="#555555" stroke-width="0.6"/>
<text x="615.03" y="483.49" font-size="5.0" fill="#2e2e2e" stroke="#2e2e2e" stroke-width="0.12" text-anchor="middle" font-family='"Liberation Sans", sans-serif' >84</text>
<line x1="643.43" y1="477.5" x2="643.43" y2="479.00" stroke="#555555" stroke-width="0.6"/>
<text x="643.43" y="483.49" font-size="5.0" fill="#2e2e2e" stroke="#2e2e2e" stroke-width="0.12" text-anchor="middle" font-family='"Liberation Sans", sans-serif' >96</text>
<line x1="671.84" y1="477.5" x2="671.84" y2="479.00" stroke="#555555" stroke-width="0.6"/>
<text x="671.84" y="483.49" font-size="5.0" fill="#2e2e2e" stroke="#2e2e2e" stroke-width="0.12" text-anchor="middle" font-family='"Liberation Sans", sans-serif' >108</text>
<text x="544.50" y="489.27" font-size="5.5" fill="#1a1a1a" stroke="#1a1a1a" stroke-width="0.12" text-anchor="middle" font-family='"Liberation Sans", sans-serif' >Months</text>
</svg>
</body></html>
